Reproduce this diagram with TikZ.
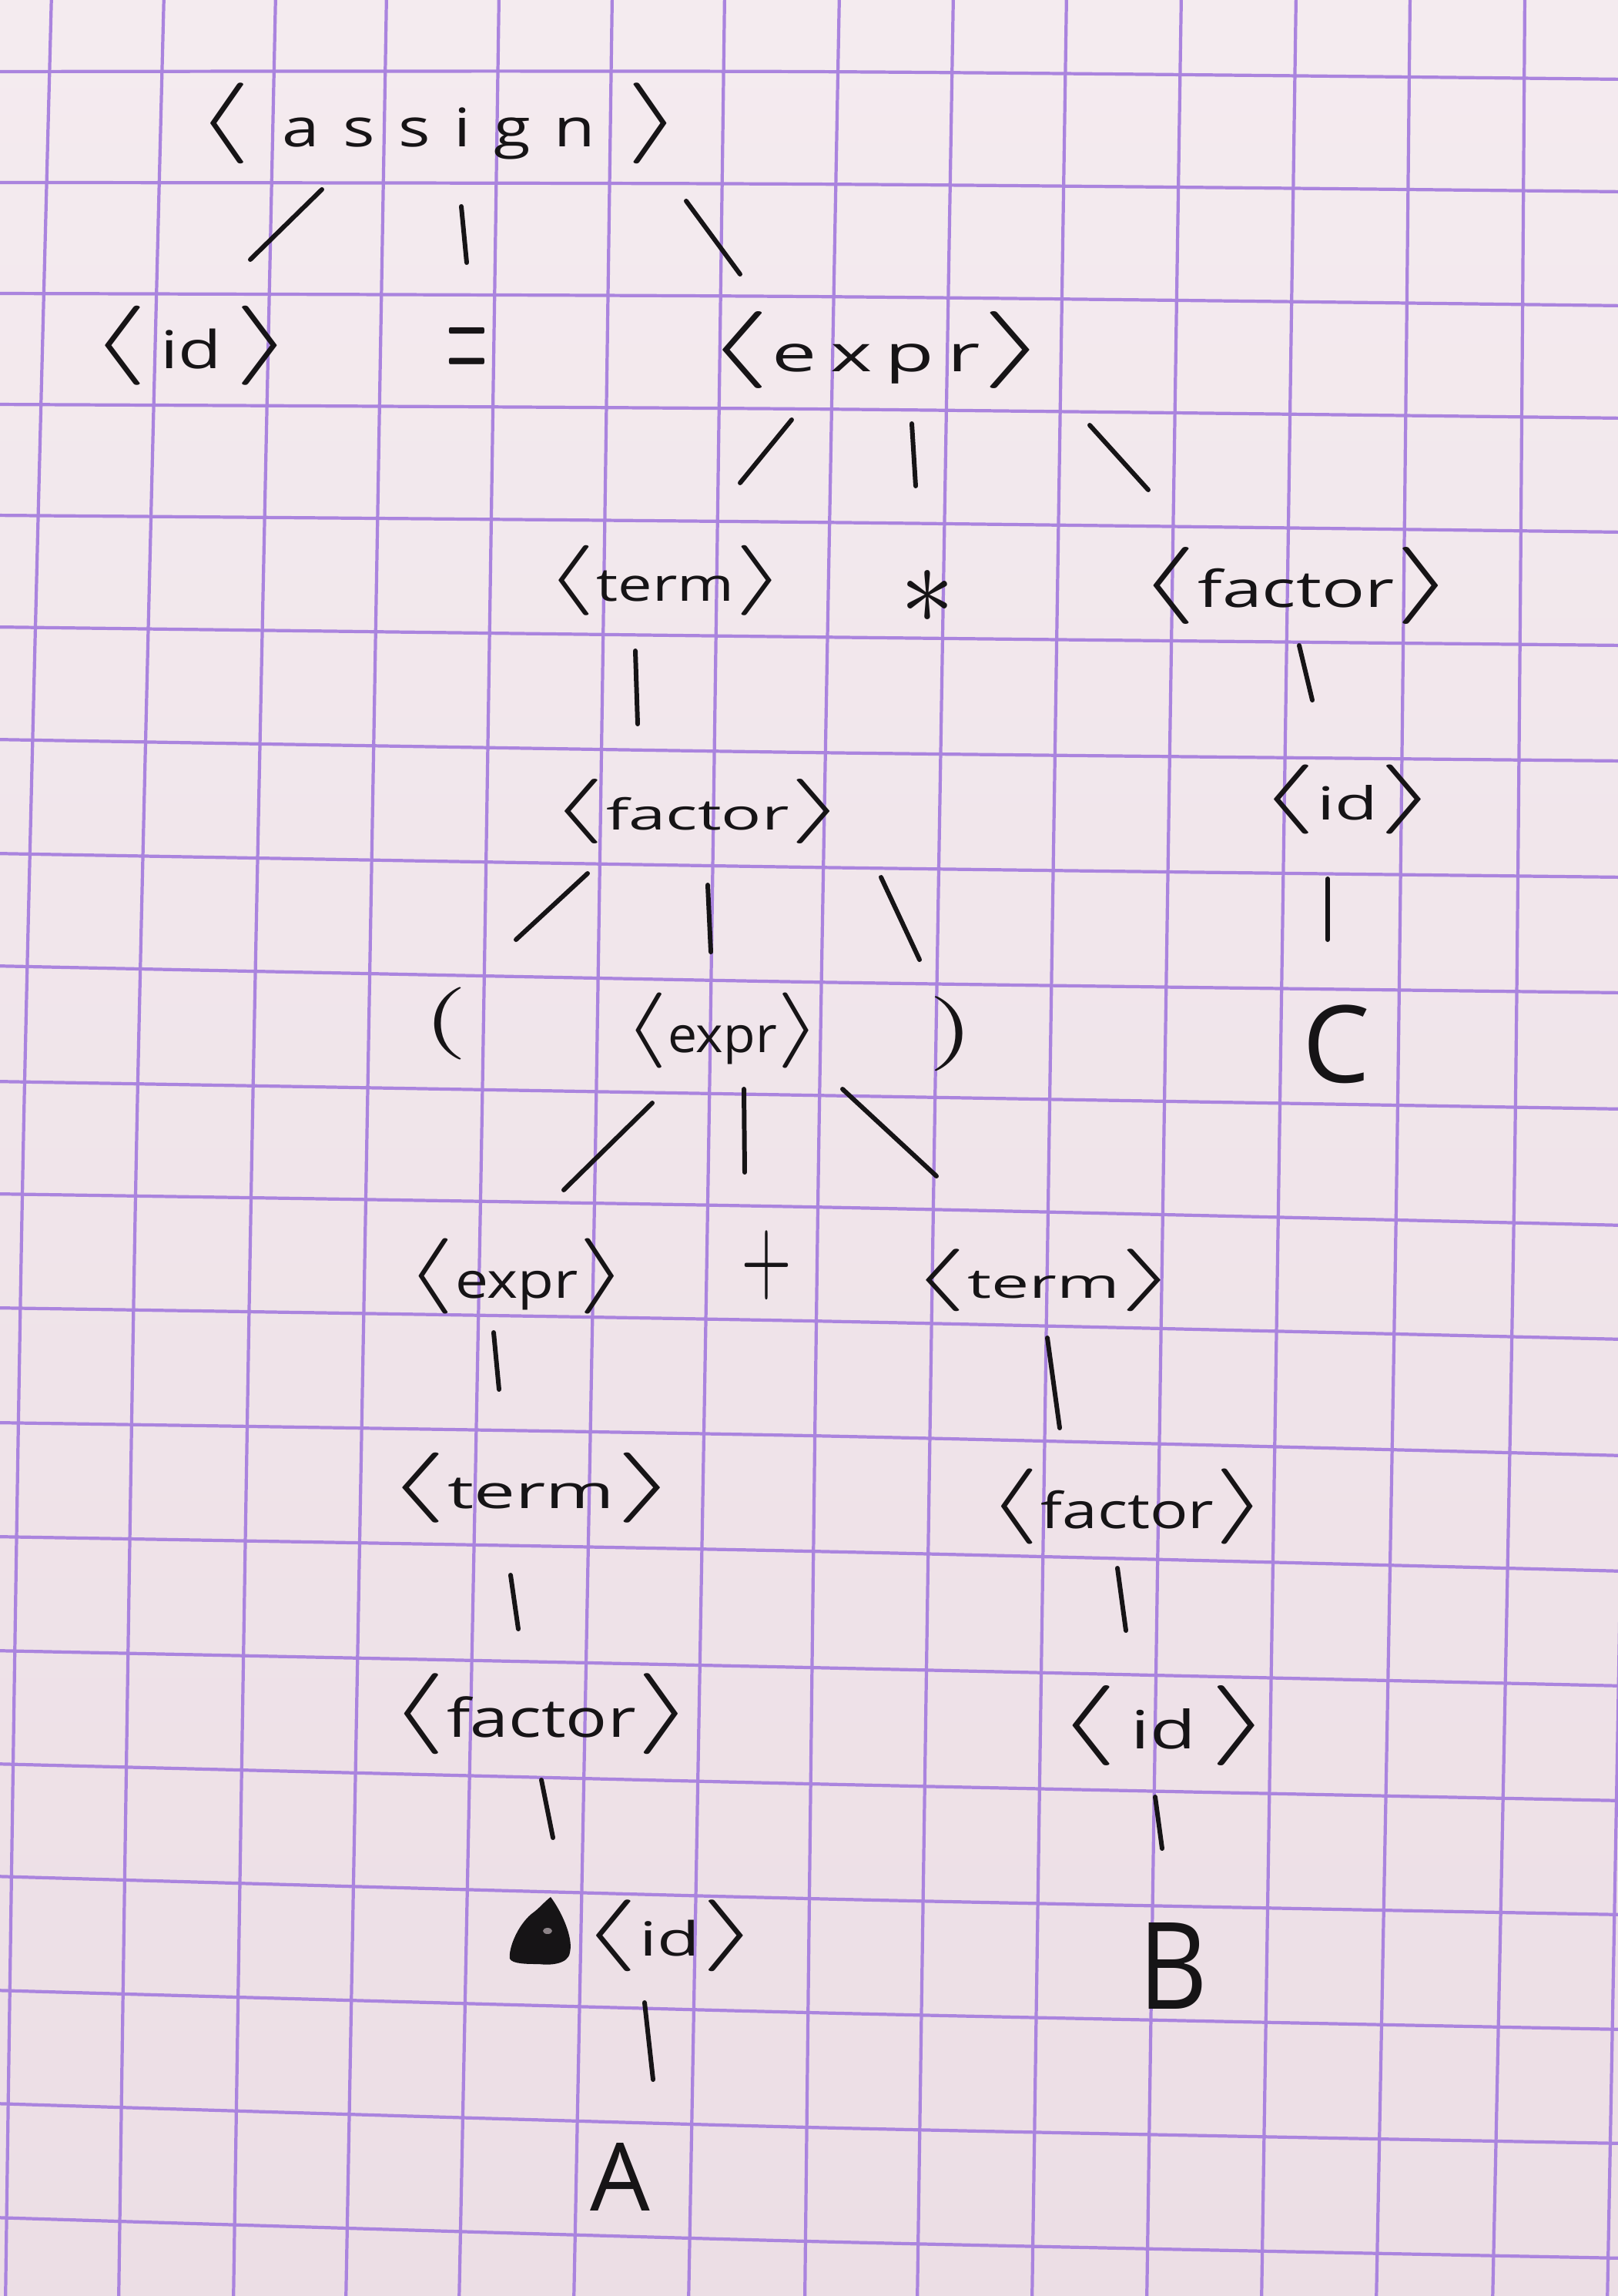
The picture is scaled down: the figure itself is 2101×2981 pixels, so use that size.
\documentclass[tikz,border=0pt]{standalone}
\usepackage{fontspec}
\usepackage{graphicx}
\setmainfont{Open Sans}
\newlength\pxu \setlength\pxu{0.01cm}
\newcommand{\lbr}{\raisebox{-0.32em}{\scalebox{1.45}[1]{\resizebox{!}{1.52em}{\raisebox{\depth}{$\langle$}}}}}
\newcommand{\rbr}{\raisebox{-0.32em}{\scalebox{1.45}[1]{\resizebox{!}{1.52em}{\raisebox{\depth}{$\rangle$}}}}}
\newcommand{\ntl}[3]{\resizebox*{#1\pxu}{#2\pxu}{\lbr#3\rbr}}
\newcommand{\chh}[2]{\resizebox*{!}{#1\pxu}{#2}}
\newcommand{\chwh}[3]{\resizebox*{#1\pxu}{#2\pxu}{#3}}
\newcommand{\lsp}{\hspace{0.35em}}
\definecolor{paperTop}{RGB}{244,235,239}
\definecolor{paperBot}{RGB}{236,222,229}
\definecolor{gridc}{RGB}{170,132,222}
\definecolor{ink}{RGB}{22,20,22}
\begin{document}
\begin{tikzpicture}[x=0.01cm,y=-0.01cm,
  lab/.style={inner sep=0pt,outer sep=0pt,text=ink},
  gl/.style={draw=gridc,line width=1.2pt},
  stroke/.style={draw=ink,line width=1.7pt,line cap=round}]
\useasboundingbox (0,0) rectangle (2101,2981);
\clip (0,0) rectangle (2101,2981);
\shade[top color=paperTop,bottom color=paperBot] (0,0) rectangle (2101,2981);
% grid: vertical lines
\foreach \a/\b/\c in {67/30/7,213/177/154,358/327/303,502/476/449,648/625/596,
  795/773/745,941/920/894,1090/1063/1045,1238/1213/1191,1385/1362/1340,
  1534/1511/1489,1683/1661/1638,1831/1814/1787,1980/1967/1938,2129/2113/2087}
  \draw[gl] plot[smooth] coordinates {(\a,-10) (\b,1500) (\c,2995)};
% grid: horizontal lines
\foreach \a/\b/\c in {93/93/103,237/239/249,381/385/397,525/531/543,669/678/691,
  814/827/838,960/977/988,1108/1126/1139,1254/1275/1289,1404/1422/1440,
  1550/1567/1591,1698/1715/1739,1847/1864/1890,1995/2014/2040,2143/2165/2189,
  2290/2316/2338,2436/2465/2486,2584/2613/2635,2731/2762/2783,2879/2910/2932}
  \draw[gl] plot[smooth] coordinates {(-10,\a) (1050,\b) (2111,\c)};

% nodes
\node[lab] (assign)  at (570,160)  {\ntl{634}{105}{\hspace{0.45em}a\lsp s\lsp s\lsp i\lsp g\lsp n\hspace{0.45em}}};
\node[lab] (id1)     at (248,449)  {\ntl{268}{103}{\,id\,}};
\node[lab] (eq)      at (606,463)  {\chwh{54}{75}{$=$}};
\node[lab] (expr1)   at (1138,454) {\ntl{448}{100}{e\,x\,p\,r}};
\node[lab] (term1)   at (864,754)  {\ntl{315}{91}{term}};
\node[lab] (star)    at (1204,775) {\chwh{70}{69}{$\ast$}};
\node[lab] (factor1) at (1683,760) {\ntl{415}{100}{factor}};
\node[lab] (factor2) at (906,1053) {\ntl{386}{84}{factor}};
\node[lab] (id2)     at (1750,1038){\ntl{235}{90}{id}};
\node[lab] (lp)      at (578,1329) {\chwh{58}{94}{$($}};
\node[lab] (expr2)   at (938,1338) {\ntl{258}{98}{expr}};
\node[lab] (rp)      at (1235,1342){\chwh{60}{97}{$)$}};
\node[lab] (C)       at (1735,1356){\chh{102}{C}};
\node[lab] (expr3)   at (671,1657) {\ntl{291}{98}{expr}};
\node[lab] (plus)    at (995,1643) {\chwh{66}{90}{$+$}};
\node[lab] (term2)   at (1355,1662){\ntl{348}{81}{term}};
\node[lab] (term3)   at (690,1932) {\ntl{381}{91}{term}};
\node[lab] (factor3) at (1464,1956){\ntl{366}{98}{factor}};
\node[lab] (factor4) at (703,2225) {\ntl{399}{105}{factor}};
\node[lab] (id3)     at (1511,2240){\ntl{284}{104}{\,id\,}};
\node[lab] (id4)     at (870,2513) {\ntl{234}{93}{id}};
\node[lab] (A)       at (805,2826) {\chh{88}{A}};
\node[lab] (B)       at (1523,2552){\chwh{90}{112}{B}};

% scribbled-out blot left of <id>
\fill[ink] (715,2463) .. controls (728,2480) and (745,2515) .. (740,2535)
  .. controls (738,2550) and (715,2552) .. (700,2550)
  .. controls (685,2550) and (665,2550) .. (662,2543)
  .. controls (660,2530) and (672,2500) .. (690,2485)
  .. controls (700,2478) and (708,2468) .. (715,2463) -- cycle;
\fill[paperBot!55!ink] (711,2507) ellipse (6 and 4);

% connector end points
\coordinate (a1) at (418,246);  \coordinate (b1) at (325,337);
\coordinate (a2) at (599,268);  \coordinate (b2) at (606,341);
\coordinate (a3) at (891,261);  \coordinate (b3) at (961,356);
\coordinate (a4) at (1028,545); \coordinate (b4) at (961,627);
\coordinate (a5) at (1184,550); \coordinate (b5) at (1189,631);
\coordinate (a6) at (1415,552); \coordinate (b6) at (1491,636);
\coordinate (a7) at (825,845);  \coordinate (b7) at (828,940);
\coordinate (a8) at (1687,838); \coordinate (b8) at (1704,909);
\coordinate (a9) at (763,1134); \coordinate (b9) at (670,1220);
\coordinate (a10) at (919,1149); \coordinate (b10) at (923,1236);
\coordinate (a11) at (1144,1139); \coordinate (b11) at (1194,1246);
\coordinate (a12) at (1724,1141); \coordinate (b12) at (1724,1220);
\coordinate (a13) at (847,1432); \coordinate (b13) at (732,1545);
\coordinate (a14) at (966,1414); \coordinate (b14) at (967,1522);
\coordinate (a15) at (1094,1414); \coordinate (b15) at (1216,1527);
\coordinate (a16) at (641,1730); \coordinate (b16) at (648,1804);
\coordinate (a17) at (1360,1737); \coordinate (b17) at (1376,1854);
\coordinate (a18) at (663,2045); \coordinate (b18) at (673,2115);
\coordinate (a19) at (1451,2036); \coordinate (b19) at (1462,2117);
\coordinate (a20) at (703,2311); \coordinate (b20) at (718,2386);
\coordinate (a21) at (1500,2333); \coordinate (b21) at (1509,2400);
\coordinate (a22) at (837,2600); \coordinate (b22) at (848,2700);
\foreach \i in {1,...,22} \draw[stroke] (a\i) -- (b\i);
\end{tikzpicture}
\end{document}
